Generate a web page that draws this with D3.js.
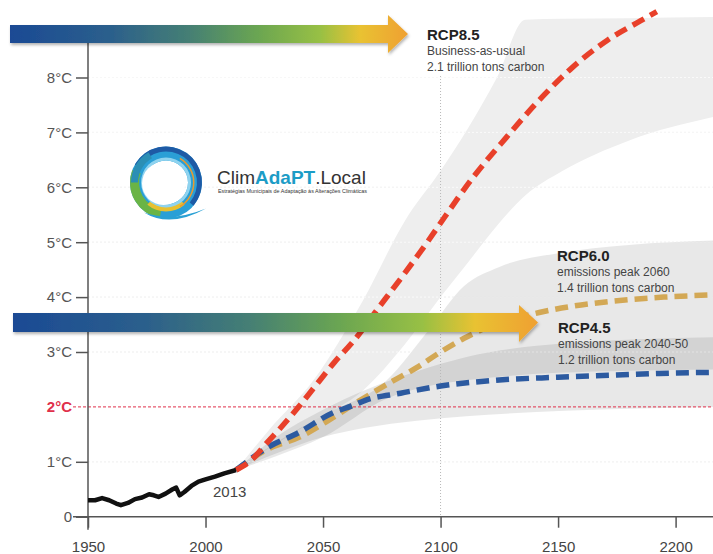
<!DOCTYPE html>
<html>
<head>
<meta charset="utf-8">
<script src="https://cdn.jsdelivr.net/npm/d3@7"></script>
<style>
  body { margin: 0; background: #fff; }
  svg { display: block; font-family: "Liberation Sans", Arial, sans-serif; }
</style>
</head>
<body>
<div id="chart"></div>
<script>
  // observed record
  var histYears = [1950, 1953, 1956, 1959, 1962, 1964, 1967, 1970, 1973, 1976, 1978, 1980, 1983, 1986, 1987.5, 1989, 1991, 1994, 1997, 2000, 2004, 2008, 2013];
  var histTemps = [0.30, 0.30, 0.34, 0.30, 0.24, 0.21, 0.25, 0.32, 0.35, 0.41, 0.39, 0.36, 0.42, 0.50, 0.53, 0.39, 0.45, 0.56, 0.64, 0.68, 0.73, 0.79, 0.85];

  // scenario medians
  var rcp85Years = [2013, 2020, 2026, 2032, 2040, 2048, 2055, 2063, 2073, 2085, 2095, 2100, 2114, 2128, 2142, 2156, 2171, 2185, 2192];
  var rcp85Temps = [0.85, 1.05, 1.34, 1.62, 2.02, 2.45, 2.82, 3.20, 3.77, 4.45, 5.04, 5.35, 6.19, 6.91, 7.59, 8.18, 8.68, 9.03, 9.20];
  var rcp60Years = [2013, 2026, 2040, 2054, 2065, 2078, 2090, 2100, 2110, 2120, 2131, 2142, 2157, 2172, 2195, 2216];
  var rcp60Temps = [0.85, 1.22, 1.45, 1.80, 2.10, 2.43, 2.72, 3.00, 3.25, 3.45, 3.60, 3.72, 3.84, 3.92, 4.00, 4.04];
  var rcp45Years = [2013, 2026, 2040, 2054, 2063, 2068, 2083, 2100, 2125, 2150, 2175, 2193, 2216];
  var rcp45Temps = [0.85, 1.25, 1.54, 1.89, 2.03, 2.12, 2.25, 2.38, 2.49, 2.54, 2.58, 2.61, 2.63];

  // uncertainty ranges
  var band85Years = [2013, 2027, 2046, 2067, 2085, 2100, 2112, 2124, 2136, 2152, 2180, 2216];
  var band85Lower = [0.85, 1.25, 1.75, 2.30, 3.15, 4.00, 4.65, 5.30, 5.85, 6.30, 6.85, 7.28];
  var band85Upper = [0.85, 1.58, 2.49, 3.94, 5.40, 6.30, 7.10, 8.00, 9.05, 9.07, 9.08, 9.10];
  var band60Years = [2013, 2030, 2050, 2077, 2095, 2110, 2125, 2150, 2180, 2216];
  var band60Lower = [0.85, 1.10, 1.45, 2.15, 2.38, 2.48, 2.55, 2.62, 2.66, 2.68];
  var band60Upper = [0.85, 1.35, 1.85, 2.48, 3.40, 4.20, 4.55, 4.80, 4.95, 5.03];
  var band45Years = [2013, 2030, 2050, 2068, 2090, 2111, 2153, 2216];
  var band45Lower = [0.85, 1.15, 1.45, 1.62, 1.75, 1.83, 1.93, 2.00];
  var band45Upper = [0.85, 1.45, 1.95, 2.31, 2.65, 2.91, 3.16, 3.27];

  var xTicks = [1950, 2000, 2050, 2100, 2150, 2200];
  var yTicks = [0, 1, 2, 3, 4, 5, 6, 7, 8];
  var scenarioNames = ['RCP8.5', 'RCP6.0', 'RCP4.5'];
  var scenarioNotes = [
    ['Business-as-usual', '2.1 trillion tons carbon'],
    ['emissions peak 2060', '1.4 trillion tons carbon'],
    ['emissions peak 2040-50', '1.2 trillion tons carbon']
  ];

  var w = 713, h = 554;
  var svg = d3.select('#chart').append('svg').attr('width', w).attr('height', h);

  var x = d3.scaleLinear().domain([1950, 2200]).range([88, 675.6]);
  var y = d3.scaleLinear().domain([0, 8]).range([516.7, 77.5]);

  var defs = svg.append('defs');
  var grad = defs.append('linearGradient').attr('id', 'arrowGrad')
    .attr('x1', '0%').attr('x2', '100%').attr('y1', '0%').attr('y2', '0%');
  [[0, '#1b4a94'], [0.25, '#2b5f8c'], [0.45, '#457f74'], [0.62, '#6aa552'],
   [0.78, '#98c044'], [0.88, '#e9c232'], [1, '#efa030']].forEach(function(s) {
    grad.append('stop').attr('offset', s[0]).attr('stop-color', s[1]);
  });
  defs.append('filter').attr('id', 'shadow').attr('x', '-5%').attr('y', '-50%')
    .attr('width', '110%').attr('height', '200%')
    .append('feDropShadow').attr('dx', 1).attr('dy', 2).attr('stdDeviation', 1.5)
    .attr('flood-color', '#000').attr('flood-opacity', 0.3);

  var zip = function(xs, ys) {
    return xs.map(function(d, i) { return [d, ys[i]]; });
  };
  var zip3 = function(xs, lo, hi) {
    return xs.map(function(d, i) { return [d, lo[i], hi[i]]; });
  };

  var line = d3.line().x(function(d) { return x(d[0]); }).y(function(d) { return y(d[1]); })
    .curve(d3.curveMonotoneX);
  var area = d3.area().x(function(d) { return x(d[0]); })
    .y0(function(d) { return y(d[1]); }).y1(function(d) { return y(d[2]); })
    .curve(d3.curveMonotoneX);

  // faint grid
  var grid = svg.append('g');
  grid.selectAll('line').data(yTicks.filter(function(d) { return d > 0 && d != 2; }))
    .enter().append('line')
    .attr('x1', x(1950)).attr('x2', w)
    .attr('y1', function(d) { return y(d); }).attr('y2', function(d) { return y(d); })
    .attr('stroke', '#e4e4e4').attr('stroke-dasharray', '2,2');

  // bands
  svg.append('path').datum(zip3(band85Years, band85Lower, band85Upper))
    .attr('d', area).attr('fill', '#eeeeee');
  svg.append('path').datum(zip3(band60Years, band60Lower, band60Upper))
    .attr('d', area).attr('fill', '#000').attr('fill-opacity', 0.09);
  svg.append('path').datum(zip3(band45Years, band45Lower, band45Upper))
    .attr('d', area).attr('fill', '#000').attr('fill-opacity', 0.09);

  grid.clone(true).raise().selectAll('line')
    .attr('stroke', '#fff').attr('stroke-opacity', 0.7);

  // 2100 marker
  svg.append('line').attr('x1', x(2100)).attr('x2', x(2100)).attr('y1', 76).attr('y2', y(0))
    .attr('stroke', '#b8b8b8').attr('stroke-dasharray', '1,2');

  // 2 degree threshold
  svg.append('line').attr('x1', 73).attr('x2', w).attr('y1', y(2)).attr('y2', y(2))
    .attr('stroke', '#e0304a').attr('stroke-width', 1).attr('stroke-dasharray', '3,2');

  // axes
  var yAxis = svg.append('g').attr('transform', 'translate(' + x(1950) + ',0)')
    .call(d3.axisLeft(y).tickValues(yTicks).tickSize(12).tickPadding(4)
      .tickFormat(function(d) { return d == 0 ? '0' : d + '°C'; }));
  yAxis.select('.domain').remove();
  yAxis.selectAll('.tick line').attr('stroke', '#555').attr('stroke-width', 1.5);
  yAxis.selectAll('.tick text').attr('font-size', 15).attr('fill', '#555')
    .attr('font-family', '"Liberation Sans", Arial, sans-serif');
  yAxis.selectAll('.tick').filter(function(d) { return d == 2; })
    .call(function(t) {
      t.select('line').remove();
      t.select('text').attr('fill', '#e0304a').attr('font-weight', 'bold');
    });

  var xAxis = svg.append('g').attr('transform', 'translate(0,' + y(0) + ')')
    .call(d3.axisBottom(x).tickValues(xTicks).tickSize(11).tickPadding(14).tickFormat(d3.format('d')));
  xAxis.select('.domain').remove();
  xAxis.selectAll('.tick line').attr('stroke', '#555').attr('stroke-width', 1.5);
  xAxis.selectAll('.tick text').attr('font-size', 15).attr('fill', '#444')
    .attr('font-family', '"Liberation Sans", Arial, sans-serif');

  svg.append('line').attr('x1', 73).attr('x2', w).attr('y1', y(0)).attr('y2', y(0))
    .attr('stroke', '#555').attr('stroke-width', 1.5);
  svg.append('line').attr('x1', x(1950)).attr('x2', x(1950)).attr('y1', 43).attr('y2', y(0) + 13)
    .attr('stroke', '#555').attr('stroke-width', 1.5);

  // scenario lines
  var series = [
    { data: zip(rcp60Years, rcp60Temps), color: '#d3a855' },
    { data: zip(rcp45Years, rcp45Temps), color: '#2c5aa0' },
    { data: zip(rcp85Years, rcp85Temps), color: '#e8402a' }
  ];
  svg.append('g').selectAll('path').data(series).enter().append('path')
    .attr('d', function(d) { return line(d.data); })
    .attr('fill', 'none')
    .attr('stroke', function(d) { return d.color; })
    .attr('stroke-width', 5.5)
    .attr('stroke-dasharray', '13,7');

  // observed
  svg.append('path').datum(zip(histYears, histTemps))
    .attr('d', d3.line().x(function(d) { return x(d[0]); }).y(function(d) { return y(d[1]); }))
    .attr('fill', 'none').attr('stroke', '#111').attr('stroke-width', 4.5)
    .attr('stroke-linejoin', 'round');

  svg.append('text').attr('x', 213).attr('y', 497).attr('font-size', 15).attr('fill', '#444')
    .text(histYears[histYears.length - 1]);

  // arrows
  var arrow = function(x0, x1, tip, top, bot, headTop, headBot) {
    var mid = (top + bot) / 2;
    return 'M' + x0 + ',' + top + 'L' + x1 + ',' + top + 'L' + x1 + ',' + headTop +
      'L' + tip + ',' + mid + 'L' + x1 + ',' + headBot + 'L' + x1 + ',' + bot +
      'L' + x0 + ',' + bot + 'Z';
  };
  svg.append('path').attr('d', arrow(10, 388, 408, 25, 43, 15, 53))
    .attr('fill', 'url(#arrowGrad)').attr('filter', 'url(#shadow)');
  svg.append('path').attr('d', arrow(13, 519, 538, 313, 332, 305, 342))
    .attr('fill', 'url(#arrowGrad)').attr('filter', 'url(#shadow)');

  // scenario labels
  var labelPos = [[427, 40], [557, 261], [558, 333]];
  var labels = svg.append('g').selectAll('g').data(scenarioNames).enter().append('g')
    .attr('transform', function(d, i) { return 'translate(' + labelPos[i][0] + ',' + labelPos[i][1] + ')'; });
  labels.append('text').attr('font-size', 15).attr('font-weight', 'bold').attr('fill', '#222')
    .text(function(d) { return d; });
  labels.each(function(d, i) {
    d3.select(this).selectAll('text.note').data(scenarioNotes[i]).enter().append('text')
      .attr('class', 'note').attr('y', function(n, j) { return 15 + j * 16; })
      .attr('font-size', 12).attr('fill', '#444')
      .text(function(n) { return n; });
  });

  // logo
  var deg = Math.PI / 180;
  var logo = svg.append('g').attr('transform', 'translate(166,182.5)');
  var logoArc = d3.arc();
  // [inner, outer, start, end, colour]
  var logoRings = [
    [22, 36, 0, 360, '#2a9fd6'],
    [31, 36, -60, 130, '#1e5aa5'],
    [27, 36, 190, 290, '#6ab446'],
    [28, 35, 270, 330, '#2b8fb5'],
    [24, 29, 140, 220, '#e8c030'],
    [27, 28.5, 30, 150, '#e89a30'],
    [22, 25, 0, 360, '#8fd3ef']
  ];
  logo.selectAll('path.ring').data(logoRings).enter().append('path').attr('class', 'ring')
    .attr('d', function(d) {
      return logoArc({ innerRadius: d[0], outerRadius: d[1], startAngle: d[2] * deg, endAngle: d[3] * deg });
    })
    .attr('fill', function(d) { return d[4]; });
  logo.append('circle').attr('cx', -2.5).attr('cy', 1).attr('r', 21.5).attr('fill', '#fff');
  logo.append('path').attr('d', 'M-22,30 Q4,46 40,26 Q6,40 -22,30Z').attr('fill', '#2aa0d4');
  var brand = svg.append('text').attr('x', 217).attr('y', 184).attr('font-size', 19).attr('fill', '#333');
  brand.append('tspan').text('Clim');
  brand.append('tspan').attr('font-weight', 'bold').attr('fill', '#1c9cc6').text('AdaPT');
  brand.append('tspan').text('.Local');
  svg.append('text').attr('x', 218).attr('y', 193).attr('font-size', 5).attr('fill', '#333')
    .attr('textLength', 149).attr('lengthAdjust', 'spacingAndGlyphs')
    .text('Estratégias Municipais de Adaptação às Alterações Climáticas');
</script>
</body>
</html>
